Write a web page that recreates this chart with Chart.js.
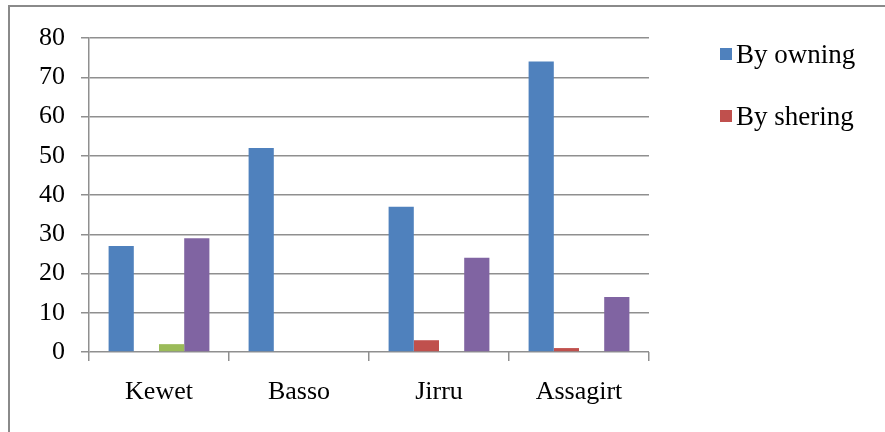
<!DOCTYPE html>
<html>
<head>
<meta charset="utf-8">
<script src="https://cdn.jsdelivr.net/npm/chart.js@4/dist/chart.umd.min.js"></script>
<style>
  html, body { margin: 0; padding: 0; background: #fff; }
  #wrap { position: relative; width: 885px; height: 432px; overflow: hidden; }
  #frame { position: absolute; left: 8px; top: 5px; width: 900px; height: 450px;
           border-left: 2px solid #8a8a8a; border-top: 2px solid #8a8a8a; pointer-events: none; }
</style>
</head>
<body>
<div id="wrap">
  <canvas id="myChart" width="885" height="432"></canvas>
  <div id="frame"></div>
</div>
<script>
const categories = ['Kewet', 'Basso', 'Jirru', 'Assagirt']
const seriesNames = ['By owning', 'By shering', 'Series 3', 'Series 4']
const owning = [27, 52, 37, 74]
const shering = [0, 0, 3, 1]
const series3 = [2, 0, 0, 0]
const series4 = [29, 0, 24, 14]
const yTicks = [0, 10, 20, 30, 40, 50, 60, 70, 80]
// only the first two entries are shown in the original legend
const legendShown = 2

const colors = ['#4F81BD', '#C0504D', '#9BBB59', '#8064A2']
const values = [owning, shering, series3, series4]

const font = {family: '"Liberation Serif", "Times New Roman", serif', size: 26}
const gridColor = '#8f8f8f'

// simple legend on the right, drawn from the datasets
const sideLegend = {
    id: 'sideLegend',
    afterDraw(chart) {
        const c = chart.ctx
        c.save()
        c.font = `27px ${font.family}`
        c.textBaseline = 'alphabetic'
        chart.data.datasets.slice(0, legendShown).forEach((ds, i) => {
            let y = 48 + i * 62
            c.fillStyle = ds.backgroundColor
            c.fillRect(720, y, 12, 12)
            c.fillStyle = '#000'
            c.fillText(ds.label, 736, y + 15)
        })
        c.restore()
    }
}

const ctx = document.getElementById('myChart').getContext('2d')
const myChart = new Chart(ctx, {
    type: 'bar',
    data: {
        labels: categories,
        datasets: seriesNames.map((name, i) => ({
            label: name,
            data: values[i],
            backgroundColor: colors[i],
            borderWidth: 0,
            categoryPercentage: 0.72,
            barPercentage: 1
        }))
    },
    options: {
        responsive: false,
        animation: false,
        layout: {padding: {top: 38, right: 236, left: 0, bottom: 0}},
        plugins: {
            legend: {display: false},
            tooltip: {enabled: false}
        },
        scales: {
            x: {
                offset: true,
                grid: {drawOnChartArea: false, drawTicks: true, tickLength: 9, color: gridColor, lineWidth: 1.5, offset: true},
                border: {display: false},
                ticks: {color: '#000', font: font, padding: 16},
                afterFit(scale) { scale.height = 80 }
            },
            y: {
                min: 0,
                max: 80,
                afterBuildTicks(scale) { scale.ticks = yTicks.map((v) => ({value: v})) },
                grid: {color: gridColor, lineWidth: 1.5, tickLength: 8},
                border: {display: true, color: gridColor, width: 1.5},
                ticks: {color: '#000', font: font, padding: 16},
                afterFit(scale) { scale.width = 89 }
            }
        }
    },
    plugins: [sideLegend]
})
</script>
</body>
</html>
